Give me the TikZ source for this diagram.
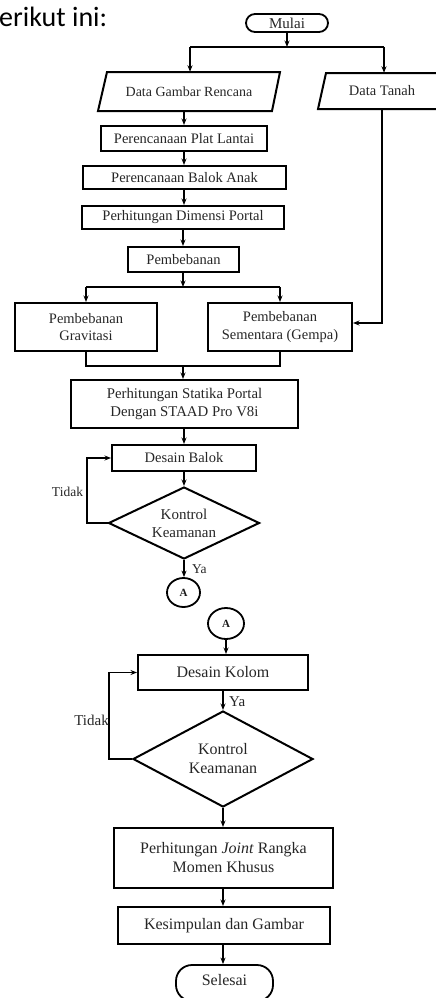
\documentclass[tikz,border=0pt]{standalone}
\usepackage{fontspec}
\setmainfont{Liberation Serif}
\newfontfamily\capfont{Carlito}
\usetikzlibrary{shapes.geometric,arrows.meta}
\tikzset{
  box/.style={draw, line width=2pt, rectangle, inner sep=0pt, align=center, text=black!85},
  io/.style={inner sep=0pt, align=center, text=black!85},
  para/.style={draw, line width=2pt, line join=miter},
  term/.style={draw, line width=1.8pt, rectangle, inner sep=0pt, text=black!85},
  dia/.style={draw, line width=2pt, diamond, aspect=2, inner sep=0pt, align=center, text=black!85},
  con/.style={draw, line width=1.8pt, ellipse, inner sep=0pt, text=black!90, font=\fontsize{11}{12}\selectfont\bfseries},
  ln/.style={line width=1.1pt},
  arr/.style={line width=1.1pt, -{Stealth[length=6.5pt,width=5pt]}},
  lbl/.style={inner sep=0pt, text=black!85},
  fs/.style={font=\fontsize{14.5}{17.5}\selectfont},
  fl/.style={font=\fontsize{16}{19}\selectfont}
}
\begin{document}
\begin{tikzpicture}[x=1pt,y=-1pt]
\useasboundingbox (0,0) rectangle (436,998);
\node[lbl, anchor=base west, text=black, font=\capfont\fontsize{28}{30}\selectfont] (cap) at (-1,27) {erikut ini:};
% start
\node[term, rounded corners=9pt, minimum width=82pt, minimum height=18pt, font=\fontsize{15}{16}\selectfont] (mulai) at (287,23) {Mulai};
% data nodes
\draw[para] (98,111) -- (107,72) -- (280,72) -- (272,111) -- cycle;
\node[io, minimum width=174pt, minimum height=39pt, font=\fontsize{14}{16}\selectfont] (dgr) at (189,91.5) {Data Gambar Rencana};
\draw[para] (318,109) -- (326,73) -- (445,73) -- (437,109) -- cycle;
\node[io, minimum width=112pt, minimum height=36pt, fs] (dt) at (382,91) {Data Tanah};
% process boxes
\node[box, fs, minimum width=166pt, minimum height=25pt] (plat) at (184,138.5) {Perencanaan Plat Lantai};
\node[box, fs, minimum width=203pt, minimum height=23pt] (anak) at (184.5,177.5) {Perencanaan Balok Anak};
\node[box, fs, minimum width=202pt, minimum height=23pt] (dim) at (183,217.5) {Perhitungan Dimensi Portal};
\node[box, fs, minimum width=111pt, minimum height=25pt] (beban) at (183.5,259.5) {Pembebanan};
\node[box, fs, minimum width=142pt, minimum height=48pt] (grav) at (86,327) {Pembebanan\\Gravitasi};
\node[box, fs, minimum width=144pt, minimum height=48pt] (sem) at (280,327) {Pembebanan\\Sementara (Gempa)};
\node[box, font=\fontsize{14.8}{18}\selectfont, minimum width=227pt, minimum height=48pt] (stat) at (184.5,404) {Perhitungan Statika Portal\\Dengan STAAD Pro V8i};
\node[box, fs, minimum width=144pt, minimum height=26pt] (balok) at (184,458) {Desain Balok};
\node[dia, font=\fontsize{15}{18}\selectfont, minimum width=151pt, minimum height=72pt] (d1) at (184,523) {Kontrol\\Keamanan};
\node[con, minimum width=33pt, minimum height=29pt] (a1) at (183.5,592.5) {A};
\node[con, minimum width=36pt, minimum height=31pt] (a2) at (226,623.5) {A};
\node[box, fl, minimum width=170pt, minimum height=35pt] (kolom) at (223,672.5) {Desain Kolom};
\node[dia, fl, minimum width=180pt, minimum height=96pt] (d2) at (223,759) {Kontrol\\Keamanan};
\node[box, fl, minimum width=219pt, minimum height=60pt] (joint) at (223.5,858) {Perhitungan \textit{Joint} Rangka\\Momen Khusus};
\node[box, fl, minimum width=212pt, minimum height=37pt] (kes) at (224,925.5) {Kesimpulan dan Gambar};
\node[term, rounded corners=16pt, minimum width=97pt, minimum height=36pt] (sel) at (224.5,983) {};
\node[lbl, fl] (seltxt) at (224.5,980) {Selesai};
% connectors top
\coordinate (j1) at (287,47);
\coordinate (j1l) at (190,47);
\coordinate (j1r) at (384,47);
\draw[arr] (mulai.south) -- (j1);
\draw[ln] (j1l) -- (j1r);
\draw[arr] (j1l) -- (j1l |- dgr.north);
\draw[arr] (j1r) -- (j1r |- dt.north);
\coordinate (dgb) at (184,111);
\draw[arr] (dgb) -- (dgb |- plat.north);
\draw[arr] (plat.south) -- (plat.south |- anak.north);
\draw[arr] (anak.south -| plat.south) -- (plat.south |- dim.north);
\draw[arr] (dim.south) -- (dim.south |- beban.north);
\coordinate (j2) at (183,287);
\draw[arr] (beban.south -| j2) -- (j2);
\draw[ln] (grav.north |- j2) -- (sem.north |- j2);
\draw[arr] (grav.north |- j2) -- (grav.north);
\draw[arr] (sem.north |- j2) -- (sem.north);
\coordinate (dtc) at (382,323);
\draw[arr] (dt.south) -- (dtc) -- (dtc -| sem.east);
\coordinate (j3) at (183,366);
\draw[ln] (grav.south) |- (j3) -| (sem.south);
\draw[arr] (j3) -- (j3 |- stat.north);
\draw[arr] (stat.south -| balok.north) -- (balok.north);
\draw[arr] (balok.south) -- (d1.north);
\coordinate (t1) at (87,523);
\draw[arr] (d1.west) -- (t1) |- (balok.west);
\node[lbl, font=\fontsize{13.5}{15}\selectfont] (tidak1) at (67.5,492) {Tidak};
\draw[arr] (d1.south) -- (d1.south |- a1.north);
\node[lbl, font=\fontsize{13.5}{15}\selectfont, anchor=west] (ya1) at (192,569) {Ya};
\draw[arr] (a2.south) -- (a2.south |- kolom.north);
\draw[arr] (kolom.south) -- (d2.north);
\node[lbl, font=\fontsize{15}{17}\selectfont, anchor=west] (ya2) at (229,702) {Ya};
\coordinate (t2) at (109,759);
\draw[arr] (d2.west) -- (t2) |- (kolom.west);
\node[lbl, font=\fontsize{15}{17}\selectfont, anchor=east] (tidak2) at (109,720) {Tidak};
\draw[arr] (d2.south) -- (d2.south |- joint.north);
\draw[arr] (joint.south -| d2.south) -- (d2.south |- kes.north);
\draw[arr] (kes.south -| d2.south) -- (d2.south |- sel.north);
\end{tikzpicture}
\end{document}
